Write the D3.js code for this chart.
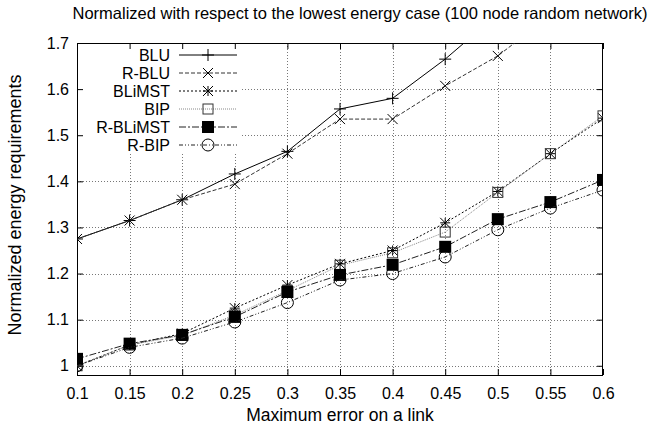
<!DOCTYPE html>
<html>
<head>
<meta charset="utf-8">
<script src="https://cdn.jsdelivr.net/npm/d3@7"></script>
<style>
  body { margin: 0; background: #fff; }
  text { font-family: "Liberation Sans", Arial, sans-serif; fill: #000; }
</style>
</head>
<body>
<div id="chart"></div>
<script>
// Data
const errors = [0.1, 0.15, 0.2, 0.25, 0.3, 0.35, 0.4, 0.45, 0.5, 0.55, 0.6]
const blu      = [1.275, 1.315, 1.36, 1.416, 1.465, 1.557, 1.58, 1.665, 1.763, 1.85, 1.94]
const rBlu     = [1.275, 1.315, 1.36, 1.394, 1.46, 1.535, 1.535, 1.607, 1.672, 1.76, 1.84]
const bliMst   = [1.0, 1.045, 1.07, 1.125, 1.175, 1.221, 1.25, 1.31, 1.378, 1.46, 1.537]
const bip      = [1.0, 1.045, 1.066, 1.11, 1.163, 1.218, 1.245, 1.29, 1.376, 1.46, 1.542]
const rBliMst  = [1.015, 1.048, 1.067, 1.106, 1.16, 1.197, 1.219, 1.258, 1.318, 1.355, 1.403]
const rBip     = [1.0, 1.04, 1.06, 1.095, 1.137, 1.186, 1.2, 1.236, 1.295, 1.342, 1.381]
const seriesNames = ['BLU', 'R-BLU', 'BLiMST', 'BIP', 'R-BLiMST', 'R-BIP']
const xTicks = [0.1, 0.15, 0.2, 0.25, 0.3, 0.35, 0.4, 0.45, 0.5, 0.55, 0.6]
const yTicks = [1, 1.1, 1.2, 1.3, 1.4, 1.5, 1.6, 1.7]

const width = 649
const height = 428
const margin = { top: 43, left: 77, right: 46, bottom: 53 }
const fontSize = 16

const styles = [
  { values: blu,     stroke: '#000', dash: null,        marker: 'plus' },
  { values: rBlu,    stroke: '#333', dash: '4,2',       marker: 'cross' },
  { values: bliMst,  stroke: '#000', dash: '2,2',       marker: 'star' },
  { values: bip,     stroke: '#888', dash: '1,1',       marker: 'square' },
  { values: rBliMst, stroke: '#222', dash: '7,2,2,2',   marker: 'fsquare' },
  { values: rBip,    stroke: '#222', dash: '4,2,1,2,1,2', marker: 'circle' },
]

const x = d3.scaleLinear().domain([0.1, 0.6]).range([margin.left, width - margin.right])
const y = d3.scaleLinear().domain([0.98, 1.7]).range([height - margin.bottom, margin.top])

const svg = d3.select('#chart').append('svg')
  .attr('width', width).attr('height', height)

svg.append('defs').append('clipPath').attr('id', 'plot')
  .append('rect')
  .attr('x', margin.left).attr('y', margin.top)
  .attr('width', width - margin.left - margin.right)
  .attr('height', height - margin.top - margin.bottom)

// Grid
const grid = svg.append('g')
  .attr('stroke', '#777').attr('stroke-width', 1).attr('stroke-dasharray', '1,2')
grid.selectAll('.gx').data(xTicks.slice(1, -1)).join('line')
  .attr('x1', d => Math.round(x(d)) + 0.5).attr('x2', d => Math.round(x(d)) + 0.5)
  .attr('y1', margin.top).attr('y2', height - margin.bottom)
grid.selectAll('.gy').data(yTicks.slice(0, -1)).join('line')
  .attr('y1', d => Math.round(y(d)) + 0.5).attr('y2', d => Math.round(y(d)) + 0.5)
  .attr('x1', margin.left).attr('x2', width - margin.right)

// Legend background blanks out the grid
const legendX = 170, legendY = 55, legendStep = 18
svg.append('rect').attr('fill', '#fff')
  .attr('x', 80).attr('y', 46).attr('width', 160).attr('height', 108)

// Axes: inner ticks on both sides
const plotW = width - margin.left - margin.right
const plotH = height - margin.top - margin.bottom
svg.append('g').attr('transform', `translate(0,${height - margin.bottom})`)
  .call(d3.axisBottom(x).tickValues(xTicks).tickSizeInner(-6).tickSizeOuter(0).tickPadding(13)
    .tickFormat(d3.format('')))
  .call(g => g.select('.domain').remove())
svg.append('g').attr('transform', `translate(0,${margin.top})`)
  .call(d3.axisTop(x).tickValues(xTicks).tickSizeInner(-6).tickSizeOuter(0).tickFormat(''))
  .call(g => g.select('.domain').remove())
svg.append('g').attr('transform', `translate(${margin.left},0)`)
  .call(d3.axisLeft(y).tickValues(yTicks).tickSizeInner(-6).tickSizeOuter(0).tickPadding(8)
    .tickFormat(d3.format('')))
  .call(g => g.select('.domain').remove())
svg.append('g').attr('transform', `translate(${width - margin.right},0)`)
  .call(d3.axisRight(y).tickValues(yTicks).tickSizeInner(-6).tickSizeOuter(0).tickFormat(''))
  .call(g => g.select('.domain').remove())
svg.selectAll('.tick text').attr('font-size', fontSize)
svg.selectAll('.tick line').attr('stroke', '#000')

svg.append('rect').attr('fill', 'none').attr('stroke', '#000')
  .attr('x', margin.left + 0.5).attr('y', margin.top + 0.5)
  .attr('width', plotW - 1).attr('height', plotH)

// Markers
function drawMarker(g, type, cx, cy) {
  const s = 5
  if (type === 'plus' || type === 'star') {
    const p = type === 'plus' ? 6 : s
    g.append('path').attr('d', `M${cx - p},${cy}H${cx + p}M${cx},${cy - p}V${cy + p}`)
      .attr('stroke', '#000').attr('fill', 'none')
  }
  if (type === 'cross' || type === 'star') {
    g.append('path').attr('d', `M${cx - s},${cy - s}L${cx + s},${cy + s}M${cx - s},${cy + s}L${cx + s},${cy - s}`)
      .attr('stroke', '#000').attr('fill', 'none')
  }
  if (type === 'square') {
    g.append('rect').attr('x', cx - s).attr('y', cy - s).attr('width', 2 * s).attr('height', 2 * s)
      .attr('stroke', '#333').attr('fill', 'none')
  }
  if (type === 'fsquare') {
    g.append('rect').attr('x', cx - 6).attr('y', cy - 6).attr('width', 12).attr('height', 12)
      .attr('fill', '#000')
  }
  if (type === 'circle') {
    g.append('circle').attr('cx', cx).attr('cy', cy).attr('r', 6)
      .attr('stroke', '#000').attr('fill', 'none')
  }
}

const line = d3.line().x((d, i) => x(errors[i])).y(d => y(d))
const plot = svg.append('g').attr('clip-path', 'url(#plot)')
styles.forEach(st => {
  plot.append('path').datum(st.values)
    .attr('d', line).attr('fill', 'none')
    .attr('stroke', st.stroke).attr('stroke-width', 1)
    .attr('stroke-dasharray', st.dash)
  st.values.forEach((v, i) => drawMarker(plot, st.marker, x(errors[i]), y(v)))
})

// Legend
const legend = svg.append('g')
styles.forEach((st, i) => {
  const ly = legendY + i * legendStep
  legend.append('text').attr('x', legendX).attr('y', ly).attr('dy', '0.36em')
    .attr('text-anchor', 'end').attr('font-size', fontSize).text(seriesNames[i])
  legend.append('line').attr('x1', 179).attr('x2', 237).attr('y1', ly).attr('y2', ly)
    .attr('stroke', st.stroke).attr('stroke-dasharray', st.dash)
  drawMarker(legend, st.marker, 208, ly)
})

// Titles
svg.append('text').attr('x', 360).attr('y', 19).attr('text-anchor', 'middle')
  .attr('font-size', 16.5).text('Normalized with respect to the lowest energy case (100 node random network)')
svg.append('text').attr('x', 340).attr('y', 421).attr('text-anchor', 'middle')
  .attr('font-size', 17.5).text('Maximum error on a link')
svg.append('text').attr('transform', `translate(15,205) rotate(-90)`)
  .attr('text-anchor', 'middle').attr('dy', '0.35em')
  .attr('font-size', 18).text('Normalized energy requirements')
</script>
</body>
</html>
